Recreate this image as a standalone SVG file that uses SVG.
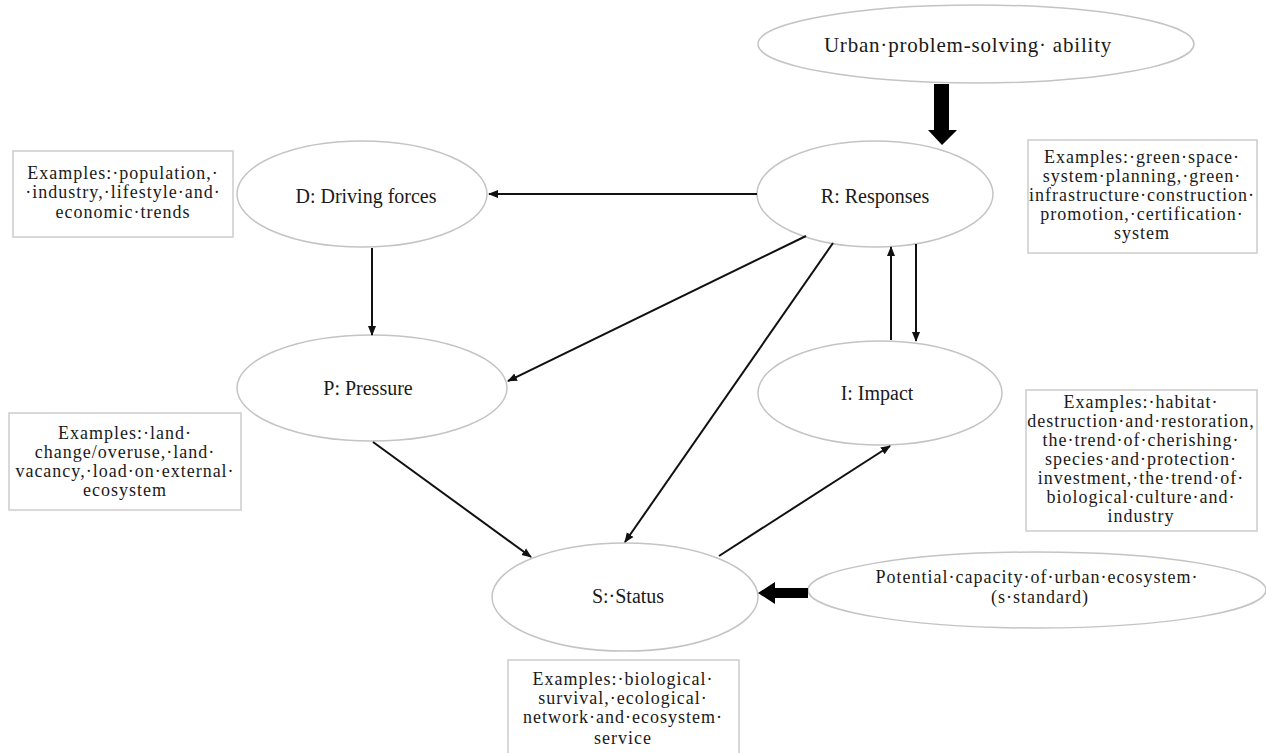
<svg xmlns="http://www.w3.org/2000/svg" width="1266" height="753" viewBox="0 0 1266 753">
<style>
.node ellipse{fill:#fff;stroke:#c4c4c4;stroke-width:1.5}
.box rect{fill:#fff;stroke:#cccccc;stroke-width:1.5}
text{font-family:'Liberation Serif','DejaVu Serif',serif;fill:#1a1a1a;text-anchor:middle}
.lbl{font-size:20px}
.ex{font-size:18px;letter-spacing:1px}
.con line{stroke:#111;stroke-width:2;marker-end:url(#ah)}
.thick{fill:#000}
</style>
<defs>
<marker id="ah" viewBox="0 0 10 10" refX="9" refY="5" markerWidth="5" markerHeight="5" orient="auto" markerUnits="strokeWidth">
<path d="M0,1 L10,5 L0,9 z" fill="#111"/>
</marker>
</defs>
<rect width="1266" height="753" fill="#fff"/>

<g id="urban" class="node">
<ellipse cx="976" cy="44" rx="218" ry="39"/>
<text x="968" y="52" style="font-size:21px;letter-spacing:0.8px">Urban·problem-solving· ability</text>
</g>
<g id="D" class="node">
<ellipse cx="362" cy="194" rx="125" ry="53"/>
<text class="lbl" x="366" y="203">D: Driving forces</text>
</g>
<g id="R" class="node">
<ellipse cx="875" cy="194" rx="118" ry="53"/>
<text class="lbl" x="875" y="203">R: Responses</text>
</g>
<g id="P" class="node">
<ellipse cx="372" cy="388" rx="135" ry="53"/>
<text class="lbl" x="368" y="395">P: Pressure</text>
</g>
<g id="I" class="node">
<ellipse cx="880" cy="393" rx="122" ry="52"/>
<text class="lbl" x="877" y="400">I: Impact</text>
</g>
<g id="S" class="node">
<ellipse cx="625" cy="597" rx="133" ry="54"/>
<text class="lbl" x="628" y="603">S:·Status</text>
</g>
<g id="potential" class="node">
<ellipse cx="1037" cy="590" rx="229" ry="38"/>
<text class="ex" x="1037" y="583">Potential·capacity·of·urban·ecosystem·</text>
<text class="ex" x="1040" y="603">(s·standard)</text>
</g>

<g id="exD" class="box">
<rect x="13" y="151" width="220" height="86"/>
<text class="ex" x="123" y="179">Examples:·population,·</text>
<text class="ex" x="123" y="198">·industry,·lifestyle·and·</text>
<text class="ex" x="123" y="218">economic·trends</text>
</g>
<g id="exR" class="box">
<rect x="1028" y="140" width="229" height="113"/>
<text class="ex" x="1142" y="163">Examples:·green·space·</text>
<text class="ex" x="1142" y="182">system·planning,·green·</text>
<text class="ex" x="1142" y="201">infrastructure·construction·</text>
<text class="ex" x="1142" y="220">promotion,·certification·</text>
<text class="ex" x="1142" y="239">system</text>
</g>
<g id="exP" class="box">
<rect x="9" y="413" width="232" height="97"/>
<text class="ex" x="125" y="439">Examples:·land·</text>
<text class="ex" x="125" y="458">change/overuse,·land·</text>
<text class="ex" x="125" y="477">vacancy,·load·on·external·</text>
<text class="ex" x="125" y="496">ecosystem</text>
</g>
<g id="exI" class="box">
<rect x="1026" y="390" width="231" height="141"/>
<text class="ex" x="1141" y="408">Examples:·habitat·</text>
<text class="ex" x="1141" y="427">destruction·and·restoration,</text>
<text class="ex" x="1141" y="446">the·trend·of·cherishing·</text>
<text class="ex" x="1141" y="465">species·and·protection·</text>
<text class="ex" x="1141" y="484">investment,·the·trend·of·</text>
<text class="ex" x="1141" y="503">biological·culture·and·</text>
<text class="ex" x="1141" y="522">industry</text>
</g>
<g id="exS" class="box">
<rect x="508" y="660" width="231" height="100"/>
<text class="ex" x="623" y="685">Examples:·biological·</text>
<text class="ex" x="623" y="704">survival,·ecological·</text>
<text class="ex" x="623" y="723">network·and·ecosystem·</text>
<text class="ex" x="623" y="744">service</text>
</g>

<g id="connectors" class="con">
<line x1="757" y1="194" x2="489" y2="194"/>
<line x1="372" y1="248" x2="372" y2="335"/>
<line x1="806" y1="236" x2="508" y2="381"/>
<line x1="833" y1="243" x2="625" y2="542"/>
<line x1="891" y1="340" x2="891" y2="247"/>
<line x1="916" y1="244" x2="916" y2="341"/>
<line x1="373" y1="442" x2="531" y2="557"/>
<line x1="719" y1="556" x2="890" y2="446"/>
<polygon class="thick" points="934,84 949,84 949,130 957,130 942,145 928,130 934,130"/>
<polygon class="thick" points="808,588 775,588 775,582 758,593 775,604 775,598 808,598"/>
</g>
</svg>
